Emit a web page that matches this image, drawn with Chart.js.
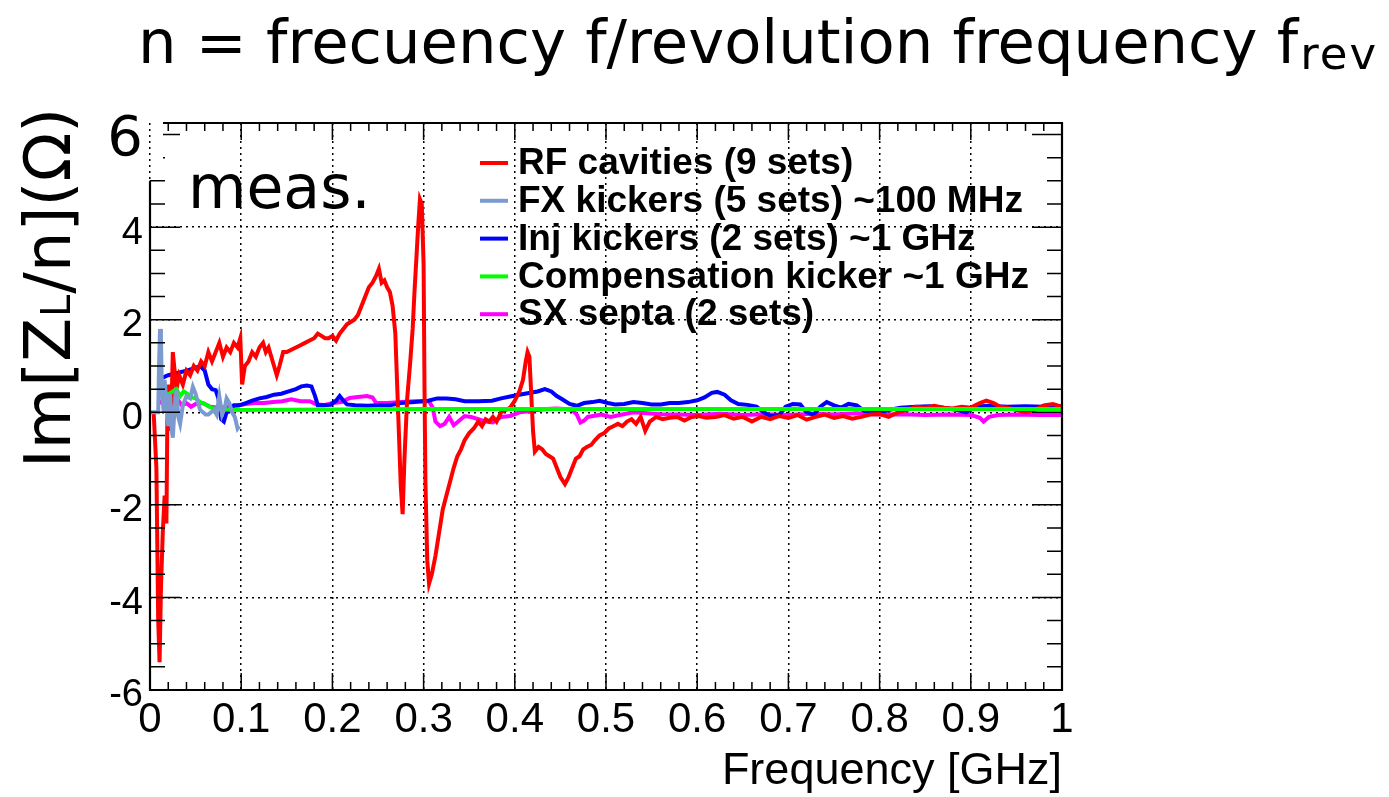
<!doctype html>
<html lang="en">
<head>
<meta charset="UTF-8">
<title>Im[ZL/n] vs frequency</title>
<style>
  html, body { margin: 0; padding: 0; background: #fff; }
  #wrap { width: 1389px; height: 797px; }
</style>
</head>
<body>
<div id="wrap"><canvas id="zchart" width="1389" height="797"></canvas></div>
<script src="https://cdn.jsdelivr.net/npm/chart.js@4.4.1/dist/chart.umd.min.js"></script>
<script>
// ---- data (frequency in GHz, Im[ZL/n] in ohm) ----
const seriesNames = ['RF cavities (9 sets)', 'FX kickers (5 sets) ~100 MHz', 'Inj kickers (2 sets) ~1 GHz',
                     'Compensation kicker ~1 GHz', 'SX septa (2 sets)'];

const rfF = [0.004,0.007,0.009,0.0105,0.012,0.014,0.016,0.018,0.019,0.021,0.023,0.025,0.027,0.029,0.032,0.036,0.040,0.044,0.048,0.052,
  0.056,0.060,0.064,0.068,0.072,0.076,0.080,0.084,0.088,0.092,0.096,0.099,0.101,0.104,0.108,0.112,0.116,0.120,0.124,0.127,
  0.130,0.133,0.136,0.139,0.142,0.146,0.150,0.155,0.160,0.165,0.170,0.175,0.180,0.184,0.188,0.192,0.196,0.200,0.204,0.208,
  0.212,0.216,0.220,0.224,0.228,0.232,0.236,0.240,0.244,0.248,0.251,0.254,0.257,0.260,0.263,0.266,0.269,0.271,0.273,0.275,
  0.277,0.279,0.282,0.285,0.288,0.290,0.292,0.294,0.296,0.298,0.300,0.301,0.302,0.304,0.306,0.309,0.313,0.317,0.321,0.325,
  0.329,0.333,0.337,0.341,0.345,0.350,0.355,0.360,0.364,0.368,0.372,0.376,0.380,0.385,0.390,0.395,0.400,0.405,0.409,0.412,
  0.414,0.416,0.418,0.420,0.422,0.426,0.430,0.434,0.438,0.442,0.446,0.450,0.455,0.459,0.463,0.467,0.471,0.475,0.479,0.484,
  0.488,0.493,0.498,0.503,0.508,0.513,0.518,0.523,0.528,0.533,0.538,0.543,0.548,0.555,0.562,0.570,0.578,0.586,0.594,0.602,
  0.610,0.620,0.630,0.640,0.650,0.660,0.670,0.680,0.690,0.700,0.710,0.720,0.730,0.740,0.750,0.760,0.770,0.780,0.790,0.800,
  0.810,0.820,0.830,0.840,0.850,0.860,0.870,0.880,0.890,0.900,0.910,0.917,0.925,0.932,0.940,0.950,0.960,0.970,0.980,0.990,1.000];
const rfZ = [0.0,-1.2,-4.5,-5.4,-3.8,-2.6,-1.8,-2.4,-0.2,0.6,-0.4,1.3,0.9,0.5,0.8,0.6,0.9,0.8,1.0,0.9,
  1.1,1.0,1.3,1.1,1.3,1.5,1.2,1.4,1.3,1.5,1.4,1.6,0.6,1.0,1.1,1.3,1.2,1.4,1.5,1.3,
  1.4,1.2,1.0,0.8,1.0,1.3,1.3,1.35,1.4,1.45,1.5,1.55,1.6,1.7,1.65,1.6,1.6,1.65,1.55,1.7,
  1.8,1.9,1.95,2.0,2.1,2.3,2.5,2.7,2.8,2.95,3.1,2.8,2.85,2.7,2.6,2.3,1.7,0.6,-0.5,-1.6,
  -2.2,-1.0,0.3,1.0,1.8,2.6,3.3,4.0,4.6,4.5,3.2,0.5,-1.5,-3.2,-3.7,-3.5,-3.1,-2.6,-2.1,-1.8,
  -1.5,-1.2,-0.95,-0.8,-0.6,-0.45,-0.35,-0.2,-0.3,-0.15,-0.2,-0.1,-0.2,0.0,0.05,0.1,0.25,0.45,0.7,1.1,
  1.3,1.2,0.4,-0.4,-0.85,-0.75,-0.8,-0.9,-0.95,-1.0,-1.2,-1.4,-1.55,-1.4,-1.2,-1.0,-0.95,-0.8,-0.75,-0.7,
  -0.6,-0.5,-0.45,-0.35,-0.3,-0.25,-0.3,-0.2,-0.15,-0.25,-0.1,-0.4,-0.2,-0.1,-0.15,-0.12,-0.1,-0.18,-0.1,-0.08,
  -0.12,-0.1,-0.06,-0.14,-0.1,-0.2,-0.1,-0.15,-0.08,-0.12,-0.06,-0.16,-0.1,-0.05,-0.12,-0.08,-0.14,-0.1,-0.05,-0.04,
  -0.1,0.0,0.05,0.12,0.1,0.14,0.1,0.08,0.12,0.1,0.2,0.25,0.2,0.12,0.1,0.05,0.0,0.05,0.15,0.18,0.12];

const fxF = [0.000,0.009,0.010,0.011,0.012,0.013,0.015,0.016,0.018,0.020,0.022,0.024,0.025,0.027,0.029,0.031,0.033,0.036,0.040,0.044,
  0.047,0.050,0.052,0.055,0.058,0.061,0.064,0.067,0.070,0.073,0.076,0.079,0.082,0.084,0.087,0.090,0.093,0.096,0.098];
const fxZ = [0.0,0.0,1.1,1.8,1.6,0.5,0.0,0.7,0.2,-0.3,0.4,-0.4,-0.55,0.1,0.5,-0.1,-0.25,0.15,0.35,0.3,
  0.55,0.4,0.25,0.05,0.0,-0.05,-0.05,0.0,0.05,-0.05,0.35,-0.05,0.1,0.3,0.2,0.0,-0.1,-0.35,-0.3];

const injF = [0.014,0.020,0.030,0.040,0.048,0.055,0.060,0.064,0.068,0.072,0.075,0.078,0.081,0.084,0.088,0.092,0.098,0.105,0.112,0.120,
  0.128,0.136,0.144,0.152,0.160,0.166,0.172,0.177,0.181,0.184,0.190,0.198,0.204,0.208,0.212,0.216,0.225,0.238,0.250,0.263,
  0.275,0.290,0.305,0.315,0.325,0.335,0.345,0.360,0.375,0.385,0.395,0.405,0.417,0.425,0.433,0.440,0.446,0.452,0.460,0.468,
  0.476,0.485,0.493,0.502,0.510,0.520,0.530,0.540,0.550,0.560,0.570,0.580,0.590,0.600,0.608,0.616,0.622,0.630,0.637,0.645,
  0.655,0.665,0.673,0.680,0.690,0.697,0.705,0.713,0.720,0.728,0.735,0.742,0.750,0.758,0.766,0.775,0.783,0.792,0.800,0.810,
  0.823,0.840,0.855,0.870,0.885,0.895,0.905,0.920,0.940,0.960,0.980,1.000];
const injZ = [0.75,0.8,0.85,0.9,0.95,1.0,0.9,0.6,0.5,0.48,0.3,-0.15,-0.2,0.0,0.05,0.15,0.15,0.2,0.25,0.3,
  0.33,0.38,0.4,0.45,0.5,0.56,0.58,0.56,0.35,0.15,0.15,0.16,0.25,0.35,0.25,0.17,0.15,0.14,0.15,0.15,
  0.2,0.22,0.25,0.3,0.3,0.28,0.24,0.24,0.25,0.3,0.34,0.38,0.42,0.45,0.5,0.45,0.35,0.28,0.18,0.14,
  0.2,0.22,0.25,0.2,0.17,0.18,0.22,0.2,0.17,0.17,0.2,0.2,0.22,0.26,0.32,0.42,0.44,0.38,0.26,0.18,
  0.16,0.12,0.0,-0.08,-0.06,0.12,0.18,0.17,0.0,-0.05,0.12,0.22,0.15,0.1,0.18,0.15,0.03,0.0,-0.02,0.05,
  0.1,0.12,0.13,0.1,0.05,0.0,0.12,0.14,0.12,0.13,0.12,0.13];

const compF = [0.012,0.016,0.020,0.025,0.029,0.033,0.037,0.041,0.046,0.050,0.055,0.060,0.065,0.070,0.080,0.100,0.200,0.300,0.400,0.500,
  0.600,0.700,0.800,0.900,1.000];
const compZ = [0.35,0.42,0.38,0.45,0.5,0.35,0.45,0.4,0.32,0.3,0.22,0.18,0.12,0.08,0.06,0.05,0.06,0.07,0.07,0.07,
  0.07,0.07,0.07,0.07,0.07];

const sxF = [0.010,0.014,0.018,0.022,0.026,0.030,0.035,0.040,0.045,0.050,0.058,0.066,0.075,0.085,0.095,0.105,0.115,0.125,0.135,0.145,
  0.155,0.165,0.175,0.183,0.192,0.200,0.210,0.219,0.228,0.238,0.244,0.248,0.260,0.275,0.290,0.306,0.310,0.313,0.318,0.323,
  0.328,0.333,0.338,0.345,0.352,0.360,0.368,0.376,0.385,0.395,0.405,0.415,0.425,0.435,0.445,0.455,0.463,0.468,0.472,0.476,
  0.480,0.486,0.495,0.505,0.515,0.530,0.545,0.560,0.580,0.600,0.625,0.650,0.675,0.700,0.725,0.750,0.775,0.800,0.825,0.850,
  0.875,0.900,0.910,0.914,0.920,0.930,0.950,0.975,1.000];
const sxZ = [0.2,0.25,0.15,0.3,0.2,0.28,0.15,0.2,0.12,0.18,0.2,0.12,0.1,0.12,0.14,0.18,0.2,0.2,0.22,0.24,
  0.28,0.24,0.24,0.17,0.16,0.2,0.22,0.31,0.33,0.35,0.32,0.2,0.2,0.22,0.24,0.24,0.1,-0.2,-0.3,-0.25,
  -0.1,-0.28,-0.2,-0.08,-0.1,-0.15,-0.2,-0.22,-0.1,-0.08,0.0,0.02,0.05,0.07,0.08,0.07,0.05,-0.05,-0.22,-0.18,
  -0.1,-0.08,-0.05,-0.1,-0.06,0.0,-0.02,-0.04,-0.05,-0.06,-0.03,-0.06,-0.04,-0.06,-0.03,-0.05,-0.02,-0.05,-0.04,-0.06,
  -0.05,-0.06,-0.12,-0.2,-0.1,-0.06,-0.05,-0.06,-0.06];

const xTickVals = [0, 0.1, 0.2, 0.3, 0.4, 0.5, 0.6, 0.7, 0.8, 0.9, 1];
const xTickLabels = ['0', '0.1', '0.2', '0.3', '0.4', '0.5', '0.6', '0.7', '0.8', '0.9', '1'];
const yTickVals = [-6, -4, -2, 0, 2, 4, 6];
const yTickLabels = ['-6', '-4', '-2', '0', '2', '4', '6'];

const titleMain = 'n = frecuency f/revolution frequency f';
const titleSub = 'rev';
const yLabelParts = ['Im[Z', 'L', '/n](\u03A9)'];
const xLabel = 'Frequency [GHz]';
const measLabel = 'meas.';

const colors = ['#ff0000', '#7b9bd0', '#0000ff', '#00ff00', '#ff00ff'];

function pts(f, z) { return f.map((v, i) => ({x: v, y: z[i]})); }

// ROOT-ish frame: ticks inside on all sides, legend, extra texts
const rootDecor = {
  id: 'rootDecor',
  afterDatasetsDraw(chart) {
    const {ctx, chartArea: a, scales: {x, y}} = chart;
    const maskRight = a.left + 13, maskBottom = y.getPixelForValue(5);
    ctx.save();
    ctx.strokeStyle = '#000';
    ctx.lineWidth = 1.5;
    ctx.beginPath();
    for (let i = 0; i < xTickVals.length; i++) {
      const nSub = i < xTickVals.length - 1 ? 5 : 1;
      for (let k = 0; k < nSub; k++) {
        const v = i < xTickVals.length - 1 ? xTickVals[i] + (xTickVals[i + 1] - xTickVals[i]) * k / 5 : xTickVals[i];
        const px = x.getPixelForValue(v);
        const len = k === 0 ? 17 : 8;
        ctx.moveTo(px, a.bottom); ctx.lineTo(px, a.bottom - len);
        if (px > maskRight) { ctx.moveTo(px, a.top); ctx.lineTo(px, a.top + len); }
      }
    }
    for (let i = 0; i < yTickVals.length; i++) {
      const nSub = i < yTickVals.length - 1 ? 4 : 1;
      for (let k = 0; k < nSub; k++) {
        const v = i < yTickVals.length - 1 ? yTickVals[i] + (yTickVals[i + 1] - yTickVals[i]) * k / 4 : yTickVals[i];
        const py = y.getPixelForValue(v);
        const len = k === 0 ? 30 : 15;
        if (py >= maskBottom) { ctx.moveTo(a.left, py); ctx.lineTo(a.left + len, py); }
        else if (a.left + len > maskRight) { ctx.moveTo(maskRight, py); ctx.lineTo(a.left + len, py); }
        ctx.moveTo(a.right, py); ctx.lineTo(a.right - len, py);
      }
    }
    ctx.stroke();
    // frame
    ctx.lineWidth = 2.2;
    ctx.beginPath();
    ctx.moveTo(a.left, maskBottom);
    ctx.lineTo(a.left, a.bottom);
    ctx.lineTo(a.right, a.bottom);
    ctx.lineTo(a.right, a.top);
    ctx.lineTo(maskRight, a.top);
    ctx.stroke();

    // legend
    const lx = a.left + 330, ly = a.top + 40, dy = 37.8;
    ctx.font = 'bold 37px "Liberation Sans", Arial, sans-serif';
    ctx.textBaseline = 'middle';
    ctx.textAlign = 'left';
    chart.data.datasets.forEach((ds, i) => {
      const yy = ly + i * dy;
      ctx.strokeStyle = ds.borderColor;
      ctx.lineWidth = 4;
      ctx.beginPath(); ctx.moveTo(lx, yy); ctx.lineTo(lx + 28, yy); ctx.stroke();
      ctx.fillStyle = '#000';
      ctx.fillText(ds.label, lx + 38, yy + 1);
    });

    // "meas."
    ctx.font = '60px "DejaVu Sans", sans-serif';
    ctx.textBaseline = 'alphabetic';
    ctx.fillText(measLabel, a.left + 38, a.top + 85);
    ctx.restore();
  },
  afterDraw(chart) {
    const {ctx} = chart;
    ctx.save();
    ctx.fillStyle = '#000';
    ctx.textBaseline = 'alphabetic';
    ctx.textAlign = 'left';
    // title with subscript
    ctx.font = '60.8px "DejaVu Sans", sans-serif';
    const tx = 138, ty = 63;
    ctx.fillText(titleMain, tx, ty);
    const w = ctx.measureText(titleMain).width;
    ctx.font = '45px "DejaVu Sans", sans-serif';
    ctx.letterSpacing = '2px';
    ctx.fillText(titleSub, tx + w + 2, ty + 6);
    ctx.letterSpacing = '0px';
    // rotated y-axis title
    ctx.translate(70, 468);
    ctx.rotate(-Math.PI / 2);
    let cx = 0;
    ctx.font = '64px "DejaVu Sans", sans-serif';
    ctx.fillText(yLabelParts[0], cx, 0);
    cx += ctx.measureText(yLabelParts[0]).width;
    ctx.font = '40px "DejaVu Sans", sans-serif';
    ctx.fillText(yLabelParts[1], cx + 1, 0);
    cx += ctx.measureText(yLabelParts[1]).width + 2;
    ctx.font = '64px "DejaVu Sans", sans-serif';
    ctx.fillText(yLabelParts[2], cx, 0);
    ctx.restore();
  }
};

const lineDs = (i, f, z, order) => ({
  label: seriesNames[i],
  data: pts(f, z),
  borderColor: colors[i],
  backgroundColor: colors[i],
  borderWidth: 4,
  pointRadius: 0,
  tension: 0,
  fill: false,
  order: order
});

new Chart(document.getElementById('zchart'), {
  type: 'line',
  data: {
    datasets: [
      lineDs(0, rfF, rfZ, 3),
      lineDs(1, fxF, fxZ, 1),
      lineDs(2, injF, injZ, 4),
      lineDs(3, compF, compZ, 2),
      lineDs(4, sxF, sxZ, 5)
    ]
  },
  options: {
    responsive: false,
    animation: false,
    layout: { padding: { left: 0, right: 327, top: 123, bottom: 0 } },
    plugins: { legend: { display: false }, tooltip: { enabled: false }, title: { display: false } },
    scales: {
      x: {
        type: 'linear', min: 0, max: 1,
        afterBuildTicks: s => { s.ticks = xTickVals.map(v => ({value: v})); },
        afterFit: s => { s.height = 107; },
        grid: { color: '#000', lineWidth: 1.5, drawTicks: false },
        border: { display: false, dash: [2, 4] },
        ticks: {
          color: '#000', padding: 5, maxRotation: 0, autoSkip: false,
          font: { family: '"Liberation Sans", Arial, sans-serif', size: 42 },
          callback: (v, i) => xTickLabels[i]
        },
        title: {
          display: true, text: xLabel, align: 'end', color: '#000',
          font: { family: '"Liberation Sans", Arial, sans-serif', size: 45, lineHeight: 1.15 },
          padding: 0
        }
      },
      y: {
        min: -6, max: 6.25,
        afterBuildTicks: s => { s.ticks = yTickVals.map(v => ({value: v})); },
        afterFit: s => { s.width = 150; },
        grid: {
          color: c => (c.tick && c.tick.value === 6) ? 'rgba(0,0,0,0)' : '#000',
          lineWidth: 1.5, drawTicks: false
        },
        border: { display: false, dash: [2, 4] },
        ticks: {
          color: '#000', padding: 7, labelOffset: 6, autoSkip: false,
          font: c => (c.tick && c.tick.value === 6)
            ? { family: '"DejaVu Sans", sans-serif', size: 56 }
            : { family: '"Liberation Sans", Arial, sans-serif', size: 38 },
          callback: (v, i) => yTickLabels[i]
        }
      }
    }
  },
  plugins: [rootDecor]
});
</script>
</body>
</html>
